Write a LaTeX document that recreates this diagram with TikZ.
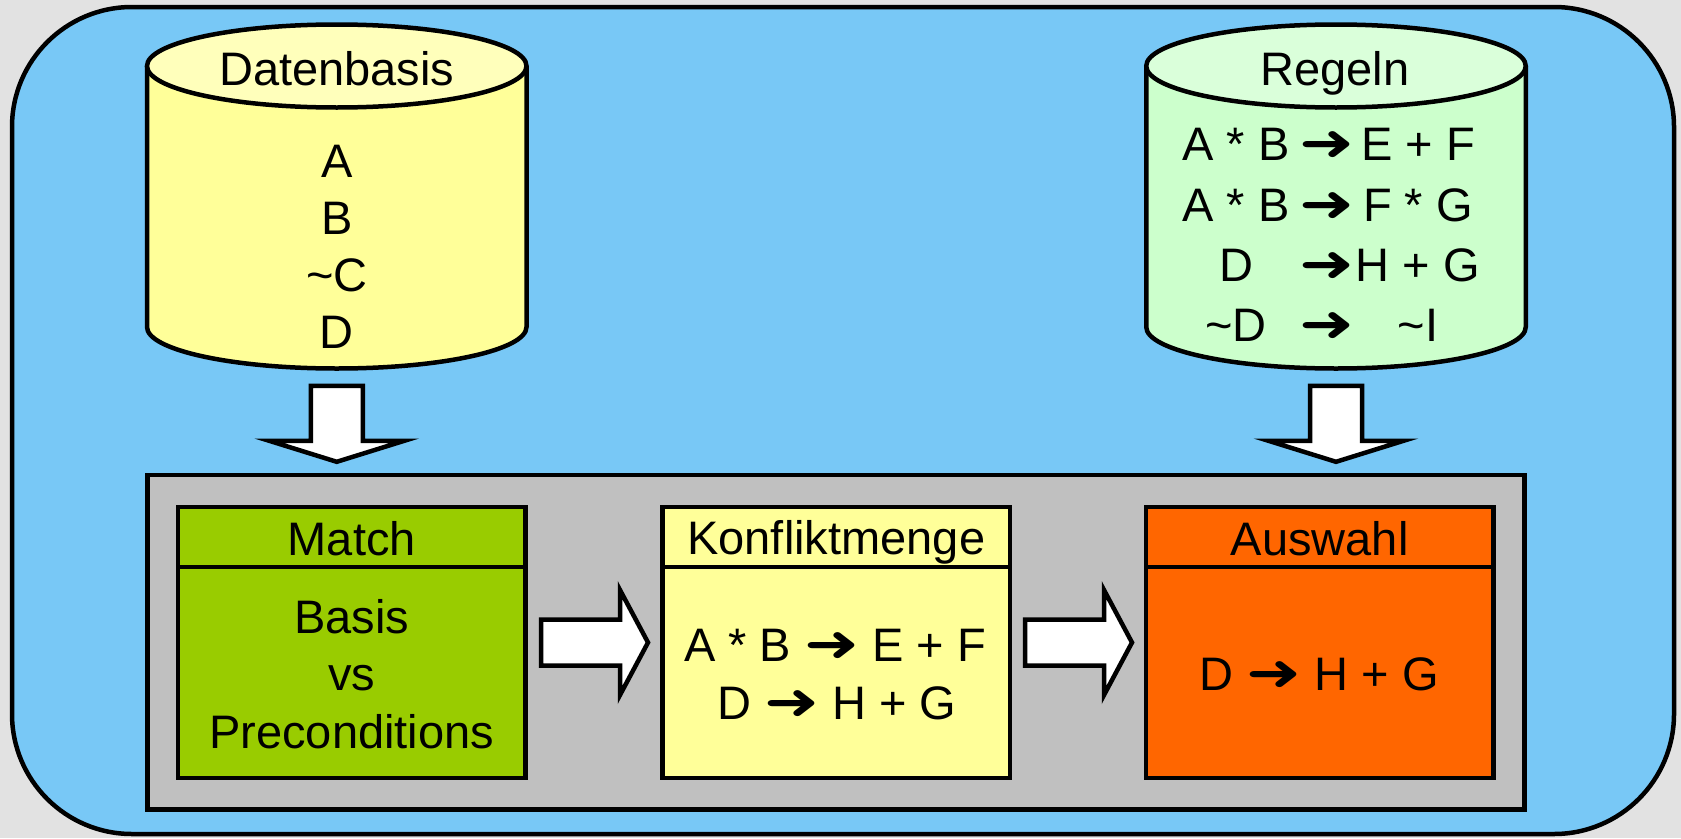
\documentclass[tikz,border=0pt]{standalone}
\usepackage{fontspec}
\setmainfont{Liberation Sans}
\newfontfamily\arrfont{DejaVu Sans}
\newcommand\rarr{\scalebox{1.4}[1.08]{\arrfont ➜}}
\usetikzlibrary{calc}
\definecolor{bgout}{HTML}{E2E2E2}
\definecolor{skyfill}{HTML}{78C8F6}
\definecolor{dbbody}{HTML}{FFFF99}
\definecolor{dbtop}{HTML}{FFFFBB}
\definecolor{rgbody}{HTML}{CCFFCC}
\definecolor{rgtop}{HTML}{DAFFDA}
\definecolor{panelc}{HTML}{C0C0C0}
\definecolor{matchc}{HTML}{99CC00}
\definecolor{konfc}{HTML}{FFFF99}
\definecolor{auswc}{HTML}{FF6600}
\begin{document}
\begin{tikzpicture}[x=1pt,y=-1pt,line width=4.5pt,
  txt/.style={inner sep=0pt,outer sep=0pt,anchor=base,font=\fontsize{47}{57}\selectfont},
  boxn/.style={draw,line width=4.5pt,inner sep=0pt,outer sep=0pt,minimum width=347.5pt,minimum height=271pt},
  blockarr/.style={draw,fill=white,line width=4.5pt,line join=miter},
  downarrow/.pic={\draw[blockarr] (-26,0) -- (26,0) -- (26,55) -- (67.5,55) -- (0,76) -- (-67.5,55) -- (-26,55) -- cycle;},
  rightarrow/.pic={\draw[blockarr] (0,-23) -- (79,-23) -- (79,-52.5) -- (107,0) -- (79,52.5) -- (79,23) -- (0,23) -- cycle;}]
\fill[bgout] (0,0) rectangle (1681,838);
\useasboundingbox (0,0) rectangle (1681,838);
% outer frame
\node[draw,fill=skyfill,rounded corners=120pt,inner sep=0pt,outer sep=0pt,minimum width=1662pt,minimum height=827pt,line width=4.5pt] (frame) at (843,420.5) {};
% Datenbasis cylinder
\fill[dbbody] (147,66) -- (147,327) arc[start angle=180,end angle=0,x radius=189.75,y radius=41.5] -- (526.5,66) -- cycle;
\draw (147,66) -- (147,327) arc[start angle=180,end angle=0,x radius=189.75,y radius=41.5] -- (526.5,66);
\draw[fill=dbtop] (336.75,66) ellipse[x radius=189.75,y radius=41.5];
\coordinate (dbbase) at (336.75,368.5);
% Regeln cylinder
\fill[rgbody] (1146.25,66) -- (1146.25,327) arc[start angle=180,end angle=0,x radius=189.75,y radius=41.5] -- (1525.75,66) -- cycle;
\draw (1146.25,66) -- (1146.25,327) arc[start angle=180,end angle=0,x radius=189.75,y radius=41.5] -- (1525.75,66);
\draw[fill=rgtop] (1336,66) ellipse[x radius=189.75,y radius=41.5];
\coordinate (rgbase) at (1336,368.5);
% panel and boxes
\node[boxn,fill=panelc,minimum width=1377pt,minimum height=334.5pt] (panel) at (836,642.25) {};
\node[boxn,fill=matchc] (match) at (351.75,642.5) {};
\node[boxn,fill=konfc] (konf) at (836.25,642.5) {};
\node[boxn,fill=auswc] (ausw) at (1319.75,642.5) {};
\foreach \b in {match,konf,ausw}{
  \draw ($(\b.north west)+(0,60)$) -- ($(\b.north east)+(0,60)$);
}
% arrows
\pic at ($(dbbase)+(0,17.3)$) {downarrow};
\pic at ($(rgbase)+(0,17.3)$) {downarrow};
\pic at ($(match.east)+(15.5,0)$) {rightarrow};
\pic at ($(konf.east)+(15,0)$) {rightarrow};
% texts
\node[txt] (dbt) at (336.75,85) {Datenbasis};
\node[txt] (db1) at (336.75,177) {A};
\node[txt] (db2) at (336.75,234.2) {B};
\node[txt] (db3) at (336.75,291.3) {\textasciitilde C};
\node[txt] (db4) at (336.75,348.4) {D};
\node[txt] (rgt) at (1335,85) {Regeln};
\foreach \y/\l/\r [count=\i] in {160.7/{A * B}/{E + F},221.7/{A * B}/{F * G},281.7/{D}/{H + G},341.7/{\textasciitilde D}/{\textasciitilde I}}{
  \node[txt] (r\i) at (1327,\y) {\makebox[91pt]{\l}\makebox[91pt]{\ \rarr\ }\makebox[91pt]{\r}};
}
\node[txt] (matcht) at (351.75,555) {Match};
\node[txt] (m1) at (351.75,633) {Basis};
\node[txt] (m2) at (351.75,690.5) {vs};
\node[txt] (m3) at (351.75,748) {Preconditions};
\node[txt] (konft) at (836.25,554) {Konfliktmenge};
\node[txt] (k1) at (835,661.7) {A * B \rarr{} E + F};
\node[txt] (k2) at (836.7,719.3) {D \rarr{} H + G};
\node[txt] (auswt) at (1319.75,555) {Auswahl};
\node[txt] (a1) at (1319.3,690.7) {D \rarr{} H + G};
\end{tikzpicture}
\end{document}
